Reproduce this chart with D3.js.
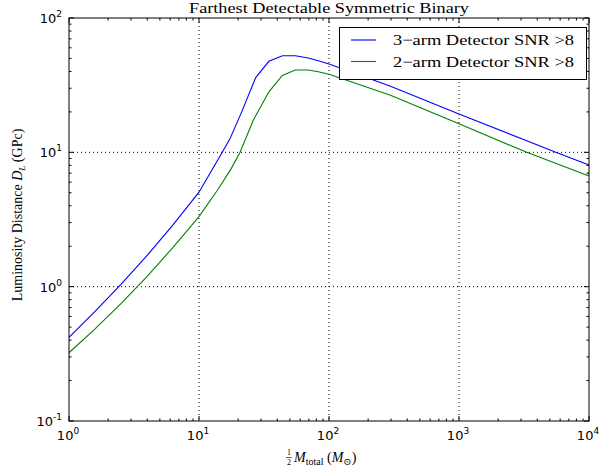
<!DOCTYPE html>
<html>
<head>
<meta charset="utf-8">
<script src="https://cdn.jsdelivr.net/npm/d3@7"></script>
<style>
  body { margin: 0; background: #fff; }
  svg { display: block; }
  .serif { font-family: "Liberation Serif", "DejaVu Serif", serif; }
  .tick text { font-family: "DejaVu Sans", sans-serif; }
</style>
</head>
<body>
<svg width="599" height="471"></svg>
<script>
let svg = d3.select("svg"),
    width = +svg.attr("width"),
    height = +svg.attr("height");

let margin = {top: 18, right: 10, bottom: 50, left: 69};
let plotW = width - margin.left - margin.right,
    plotH = height - margin.top - margin.bottom;

// 3-arm detector, SNR > 8
let massBlue = [1, 1.58, 2.51, 3.98, 6.31, 10, 12.9, 15.1, 17.3, 21.3, 27.3, 34.5, 43.8, 55.1, 69.3, 82.8, 100, 294, 1000, 5550, 10000];
let distBlue = [0.42, 0.653, 1.04, 1.70, 2.88, 5.05, 7.7, 10, 12.6, 20, 36, 47.6, 52.4, 52.4, 50.4, 48.1, 45.5, 31.2, 19.3, 10, 8.05];

// 2-arm detector, SNR > 8
let massGreen = [1, 1.58, 2.51, 3.98, 6.31, 10, 13.8, 17.6, 20.7, 26.2, 34.5, 43.8, 55.1, 69.3, 82.8, 100, 294, 1000, 3320, 10000];
let distGreen = [0.322, 0.483, 0.748, 1.19, 1.96, 3.32, 5.2, 7.5, 10.0, 17.4, 28.2, 37.4, 41.0, 41.0, 39.8, 38.1, 26.7, 16.3, 10, 6.67];

let xTicks = [1, 10, 100, 1000, 10000];
let yTicks = [0.1, 1, 10, 100];
let seriesNames = ["3\u2212arm Detector SNR >8", "2\u2212arm Detector SNR >8"];
let seriesColors = ["#0000ff", "#008000"];

let x = d3.scaleLog().domain([1, 10000]).range([0, plotW]);
let y = d3.scaleLog().domain([0.1, 100]).range([plotH, 0]);

let g = svg.append("g")
    .attr("transform", "translate(" + margin.left + "," + margin.top + ")");

//Dotted grid at the decades
g.append("g").attr("class", "grid")
    .selectAll("line")
    .data(xTicks.slice(1, -1)).enter().append("line")
        .attr("x1", d => x(d)).attr("x2", d => x(d))
        .attr("y1", 0).attr("y2", plotH)
        .attr("stroke", "#000").attr("stroke-width", 1)
        .attr("stroke-dasharray", "1,3");
g.append("g").attr("class", "grid")
    .selectAll("line")
    .data(yTicks.slice(1, -1)).enter().append("line")
        .attr("y1", d => y(d)).attr("y2", d => y(d))
        .attr("x1", 0).attr("x2", plotW)
        .attr("stroke", "#000").attr("stroke-width", 1)
        .attr("stroke-dasharray", "1,3");

//Curves
let line = d3.line()
    .x(d => x(d[0]))
    .y(d => y(d[1]));

let series = [d3.zip(massBlue, distBlue), d3.zip(massGreen, distGreen)];
g.append("g").selectAll("path")
    .data(series).enter().append("path")
        .attr("d", line)
        .attr("fill", "none")
        .attr("stroke", (d, i) => seriesColors[i])
        .attr("stroke-width", 1.1);

//Ticks pointing inward on all four sides
function minorTicks(scale){
    let [a, b] = scale.domain();
    let out = [];
    for (let e = Math.log10(a); e < Math.log10(b); e++){
        for (let k = 2; k < 10; k++) out.push(k * Math.pow(10, e));
    }
    return out;
}
let xMinor = minorTicks(x), yMinor = minorTicks(y);

function tickMarks(sel, vals, scale, len, side){
    sel.append("g").selectAll("line")
        .data(vals).enter().append("line")
        .attr("stroke", "#000").attr("stroke-width", 1)
        .each(function(d){
            let s = d3.select(this), p = scale(d);
            if (side === "b") s.attr("x1", p).attr("x2", p).attr("y1", plotH).attr("y2", plotH - len);
            if (side === "t") s.attr("x1", p).attr("x2", p).attr("y1", 0).attr("y2", len);
            if (side === "l") s.attr("y1", p).attr("y2", p).attr("x1", 0).attr("x2", len);
            if (side === "r") s.attr("y1", p).attr("y2", p).attr("x1", plotW).attr("x2", plotW - len);
        });
}
let ticks = g.append("g").attr("class", "ticks");
tickMarks(ticks, xTicks, x, 5, "b");
tickMarks(ticks, xTicks, x, 5, "t");
tickMarks(ticks, xMinor, x, 2.5, "b");
tickMarks(ticks, xMinor, x, 2.5, "t");
tickMarks(ticks, yTicks, y, 5, "l");
tickMarks(ticks, yTicks, y, 5, "r");
tickMarks(ticks, yMinor, y, 2.5, "l");
tickMarks(ticks, yMinor, y, 2.5, "r");

//Frame
g.append("rect")
    .attr("width", plotW).attr("height", plotH)
    .attr("fill", "none").attr("stroke", "#000").attr("stroke-width", 1);

//Tick labels as 10^n
function powLabel(t, d){
    let e = Math.round(Math.log10(d));
    t.append("tspan").text("10");
    t.append("tspan").text(e).attr("dy", -6).style("font-size", "9px");
}
g.append("g").attr("class", "tick")
    .selectAll("text")
    .data(xTicks).enter().append("text")
        .attr("x", d => x(d) - 1)
        .attr("y", plotH + 19)
        .attr("text-anchor", "middle")
        .style("font-size", "13px")
        .each(function(d){ powLabel(d3.select(this), d); });
g.append("g").attr("class", "tick")
    .selectAll("text")
    .data(yTicks).enter().append("text")
        .attr("x", -7)
        .attr("y", d => y(d) + 5)
        .attr("text-anchor", "end")
        .style("font-size", "13px")
        .each(function(d){ powLabel(d3.select(this), d); });

//Title
svg.append("text").attr("class", "serif")
    .attr("x", margin.left + plotW / 2).attr("y", 13)
    .attr("text-anchor", "middle")
    .style("font-size", "14px")
    .attr("textLength", 280).attr("lengthAdjust", "spacingAndGlyphs")
    .text("Farthest Detectable Symmetric Binary");

//Y label
let yl = svg.append("text").attr("class", "serif")
    .attr("transform", "translate(22,215) rotate(-90)")
    .attr("text-anchor", "middle")
    .style("font-size", "14px");
yl.append("tspan").text("Luminosity Distance ");
yl.append("tspan").text("D").style("font-style", "italic");
yl.append("tspan").text("L").style("font-style", "italic").style("font-size", "9px").attr("dy", 3);
yl.append("tspan").text(" (GPc)").attr("dy", -3);

//X label: 1/2 M_total (M_sun)
let xlx = 293, xly = 462;
let frac = svg.append("g").attr("class", "serif").style("font-size", "8px");
frac.append("text").attr("x", xlx - 4).attr("y", xly - 7).attr("text-anchor", "middle").text("1");
frac.append("text").attr("x", xlx - 4).attr("y", xly + 3).attr("text-anchor", "middle").text("2");
frac.append("line").attr("x1", xlx - 7).attr("x2", xlx - 1)
    .attr("y1", xly - 4.5).attr("y2", xly - 4.5)
    .attr("stroke", "#000").attr("stroke-width", 0.6);
let xl = svg.append("text").attr("class", "serif")
    .attr("x", xlx + 1).attr("y", xly)
    .style("font-size", "14px");
xl.append("tspan").text("M").style("font-style", "italic");
xl.append("tspan").text("total").style("font-size", "10px").attr("dy", 3);
xl.append("tspan").text(" (").attr("dy", -3);
xl.append("tspan").text("M").style("font-style", "italic");
xl.append("tspan").text("\u2299").style("font-size", "10px").attr("dy", 3);
xl.append("tspan").text(")").attr("dy", -3);

//Legend
let legend = svg.append("g").attr("class", "legend");
legend.append("rect")
    .attr("x", 339.5).attr("y", 27.5)
    .attr("width", 247).attr("height", 52)
    .attr("fill", "#fff").attr("stroke", "#000").attr("stroke-width", 1);
let items = legend.selectAll("g.item")
    .data(seriesNames).enter().append("g")
        .attr("class", "item")
        .attr("transform", (d, i) => "translate(0," + (40 + i * 21.5) + ")");
items.append("line")
    .attr("x1", 351).attr("x2", 376)
    .attr("stroke", (d, i) => seriesColors[i]).attr("stroke-width", 1.1);
items.append("text").attr("class", "serif")
    .attr("x", 393).attr("y", 5)
    .style("font-size", "15px")
    .attr("textLength", 181).attr("lengthAdjust", "spacingAndGlyphs")
    .text(d => d);
</script>
</body>
</html>
